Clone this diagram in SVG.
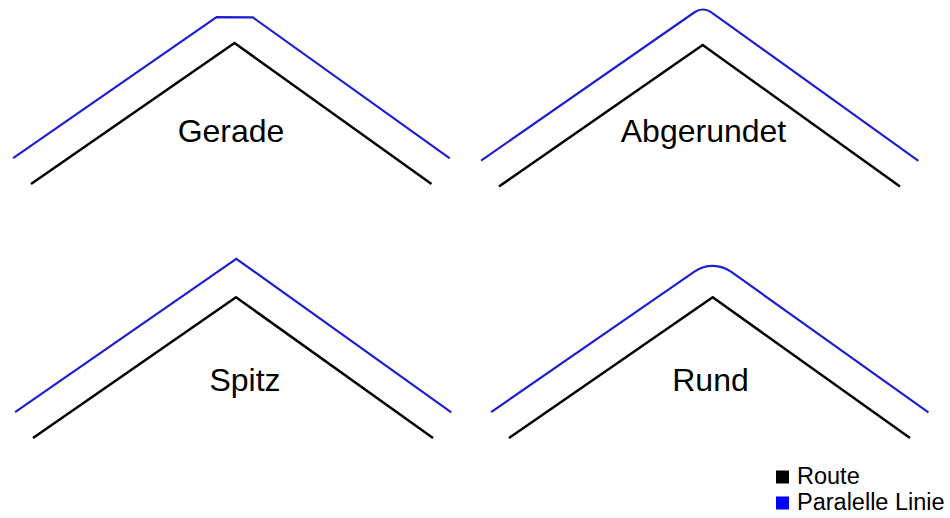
<svg xmlns="http://www.w3.org/2000/svg" width="950" height="518" viewBox="0 0 950 518">
  <style>
    .route { fill: none; stroke: #000000; stroke-width: 2.5; stroke-linejoin: miter; }
    .parallel { fill: none; stroke: #1f1fd0; stroke-width: 2.2; stroke-linejoin: miter; }
    .label { font-family: "Liberation Sans", Arial, sans-serif; font-size: 32px; fill: #000000; text-anchor: middle; }
    .legend { font-family: "Liberation Sans", Arial, sans-serif; font-size: 23.5px; fill: #000000; }
  </style>
  <rect width="950" height="518" fill="#ffffff"/>

  <g id="connectors">
    <!-- Gerade: straight (bevel) corner -->
    <polyline class="route" points="31,184 234.5,43 431.5,184"/>
    <polyline class="parallel" points="13.1,158.1 216.6,17.1 252.8,17.4 449.8,158.4"/>

    <!-- Abgerundet: miter corner with a small fillet -->
    <polyline class="route" points="499,186.5 702.7,45 900,186.5"/>
    <path class="parallel" d="M481.1,160.6 L694.9,12.0 A14,14 0 0 1 711.0,12.1 L918.4,160.9"/>

    <!-- Spitz: pointed (miter) corner -->
    <polyline class="route" points="33,438 236,297.3 433,438"/>
    <polyline class="parallel" points="15.1,412.1 236.3,258.8 451.3,412.4"/>

    <!-- Rund: round corner around the vertex -->
    <polyline class="route" points="509,438 712.7,297.3 910,438"/>
    <path class="parallel" d="M491.1,412.1 L694.8,271.4 A31.5,31.5 0 0 1 731.0,271.7 L928.4,412.4"/>
  </g>

  <g id="label-gerade"><text class="label" x="231" y="142">Gerade</text></g>
  <g id="label-abgerundet"><text class="label" x="703.5" y="142">Abgerundet</text></g>
  <g id="label-spitz"><text class="label" x="245" y="391">Spitz</text></g>
  <g id="label-rund"><text class="label" x="710.5" y="391">Rund</text></g>

  <g id="legend">
    <rect x="776" y="470.5" width="13" height="13" fill="#000000"/>
    <text class="legend" x="797" y="484">Route</text>
    <rect x="776" y="496.5" width="13" height="13" fill="#0000ff"/>
    <text class="legend" x="797" y="510">Paralelle Linie</text>
  </g>
</svg>
